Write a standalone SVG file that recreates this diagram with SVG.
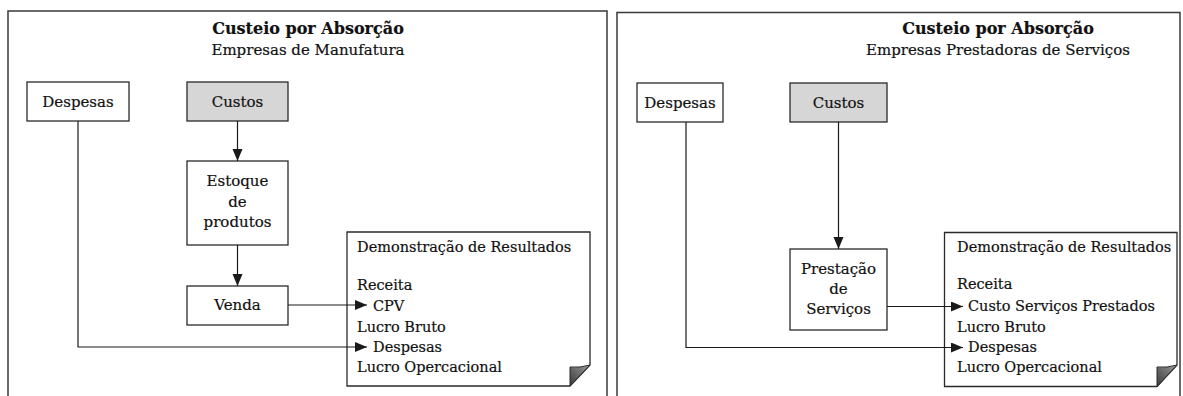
<svg xmlns="http://www.w3.org/2000/svg" width="1183" height="396" viewBox="0 0 1183 396">
<style>
.frame{fill:none;stroke:#3a3a3a;stroke-width:1.5}
.box{fill:#fff;stroke:#2a2a2a;stroke-width:1.3}
.gray{fill:#d6d6d6;stroke:#2a2a2a;stroke-width:1.3}
.doc{fill:#fff;stroke:#2a2a2a;stroke-width:1.3}
.t{font-family:"DejaVu Serif","Liberation Serif",serif;font-size:15px;fill:#111;stroke:#111;stroke-width:0.2}
.c{text-anchor:middle}
.title{font-weight:bold;font-size:16px}
.d{font-size:14.5px}
.conn{fill:none;stroke:#1a1a1a;stroke-width:1.2}
</style>
<defs>
<marker id="ah" markerUnits="userSpaceOnUse" markerWidth="13" markerHeight="11" refX="12" refY="5" orient="auto">
<path d="M0,0 L12,5 L0,10 Z" fill="#1a1a1a"/>
</marker>
<linearGradient id="fold" x1="0" y1="1" x2="1" y2="0">
<stop offset="0" stop-color="#3a3a3a"/>
<stop offset="1" stop-color="#9a9a9a"/>
</linearGradient>
</defs>
<rect width="1183" height="396" fill="#fff"/>

<g id="panel-left">
<path class="frame" d="M8,400 V11 H607 V400"/>
<text class="t title c" x="308" y="34">Custeio por Absorção</text>
<text class="t c" x="308" y="55">Empresas de Manufatura</text>
</g>
<g id="panel-right">
<path class="frame" d="M617,400 V12.5 H1180 V400"/>
<text class="t title c" x="998" y="34">Custeio por Absorção</text>
<text class="t c" x="998" y="55">Empresas Prestadoras de Serviços</text>
</g>

<g id="l-despesas">
<rect class="box" x="27" y="82" width="102" height="39"/>
<text class="t c" x="78" y="107">Despesas</text>
</g>
<g id="l-custos">
<rect class="gray" x="187" y="82" width="101" height="39"/>
<text class="t c" x="237.5" y="107">Custos</text>
</g>
<g id="l-estoque">
<rect class="box" x="187" y="161" width="101" height="84"/>
<text class="t c" x="237.5" y="186">Estoque</text>
<text class="t c" x="237.5" y="206.5">de</text>
<text class="t c" x="237.5" y="227">produtos</text>
</g>
<g id="l-venda">
<rect class="box" x="187" y="286" width="101" height="39"/>
<text class="t c" x="237.5" y="310">Venda</text>
</g>
<g id="l-dre">
<path class="doc" d="M347,232 H590 V365 L570,386 H347 Z"/>
<path d="M570,367 Q580,368 590,365 L570,386 Z" fill="url(#fold)" stroke="#2a2a2a" stroke-width="1"/>
<text class="t d" x="357" y="252">Demonstração de Resultados</text>
<text class="t d" x="357" y="290">Receita</text>
<text class="t d" x="373" y="311">CPV</text>
<text class="t d" x="357" y="331.5">Lucro Bruto</text>
<text class="t d" x="373" y="352">Despesas</text>
<text class="t d" x="357" y="372">Lucro Opercacional</text>
</g>

<g id="r-despesas">
<rect class="box" x="637" y="83" width="86" height="39"/>
<text class="t c" x="680" y="108">Despesas</text>
</g>
<g id="r-custos">
<rect class="gray" x="790" y="83" width="97" height="39"/>
<text class="t c" x="838.5" y="108">Custos</text>
</g>
<g id="r-prestacao">
<rect class="box" x="790" y="249" width="97" height="81"/>
<text class="t c" x="838.5" y="274">Prestação</text>
<text class="t c" x="838.5" y="294">de</text>
<text class="t c" x="838.5" y="313.5">Serviços</text>
</g>
<g id="r-dre">
<path class="doc" d="M944.5,232.5 H1177 V365 L1157,386.5 H944.5 Z"/>
<path d="M1157,367 Q1167,368 1177,365 L1157,386.5 Z" fill="url(#fold)" stroke="#2a2a2a" stroke-width="1"/>
<text class="t d" x="957" y="252">Demonstração de Resultados</text>
<text class="t d" x="957" y="289">Receita</text>
<text class="t d" x="968" y="311">Custo Serviços Prestados</text>
<text class="t d" x="957" y="331.5">Lucro Bruto</text>
<text class="t d" x="968" y="352">Despesas</text>
<text class="t d" x="957" y="372">Lucro Opercacional</text>
</g>

<g id="connectors">
<path class="conn" d="M237.5,121 V161" marker-end="url(#ah)"/>
<path class="conn" d="M237.5,245 V286" marker-end="url(#ah)"/>
<path class="conn" d="M288,305 H367" marker-end="url(#ah)"/>
<path class="conn" d="M78,121 V347 H367" marker-end="url(#ah)"/>
<path class="conn" d="M838.5,122 V249" marker-end="url(#ah)"/>
<path class="conn" d="M887,306.5 H963" marker-end="url(#ah)"/>
<path class="conn" d="M686,122 V347.5 H963" marker-end="url(#ah)"/>
</g>
</svg>
